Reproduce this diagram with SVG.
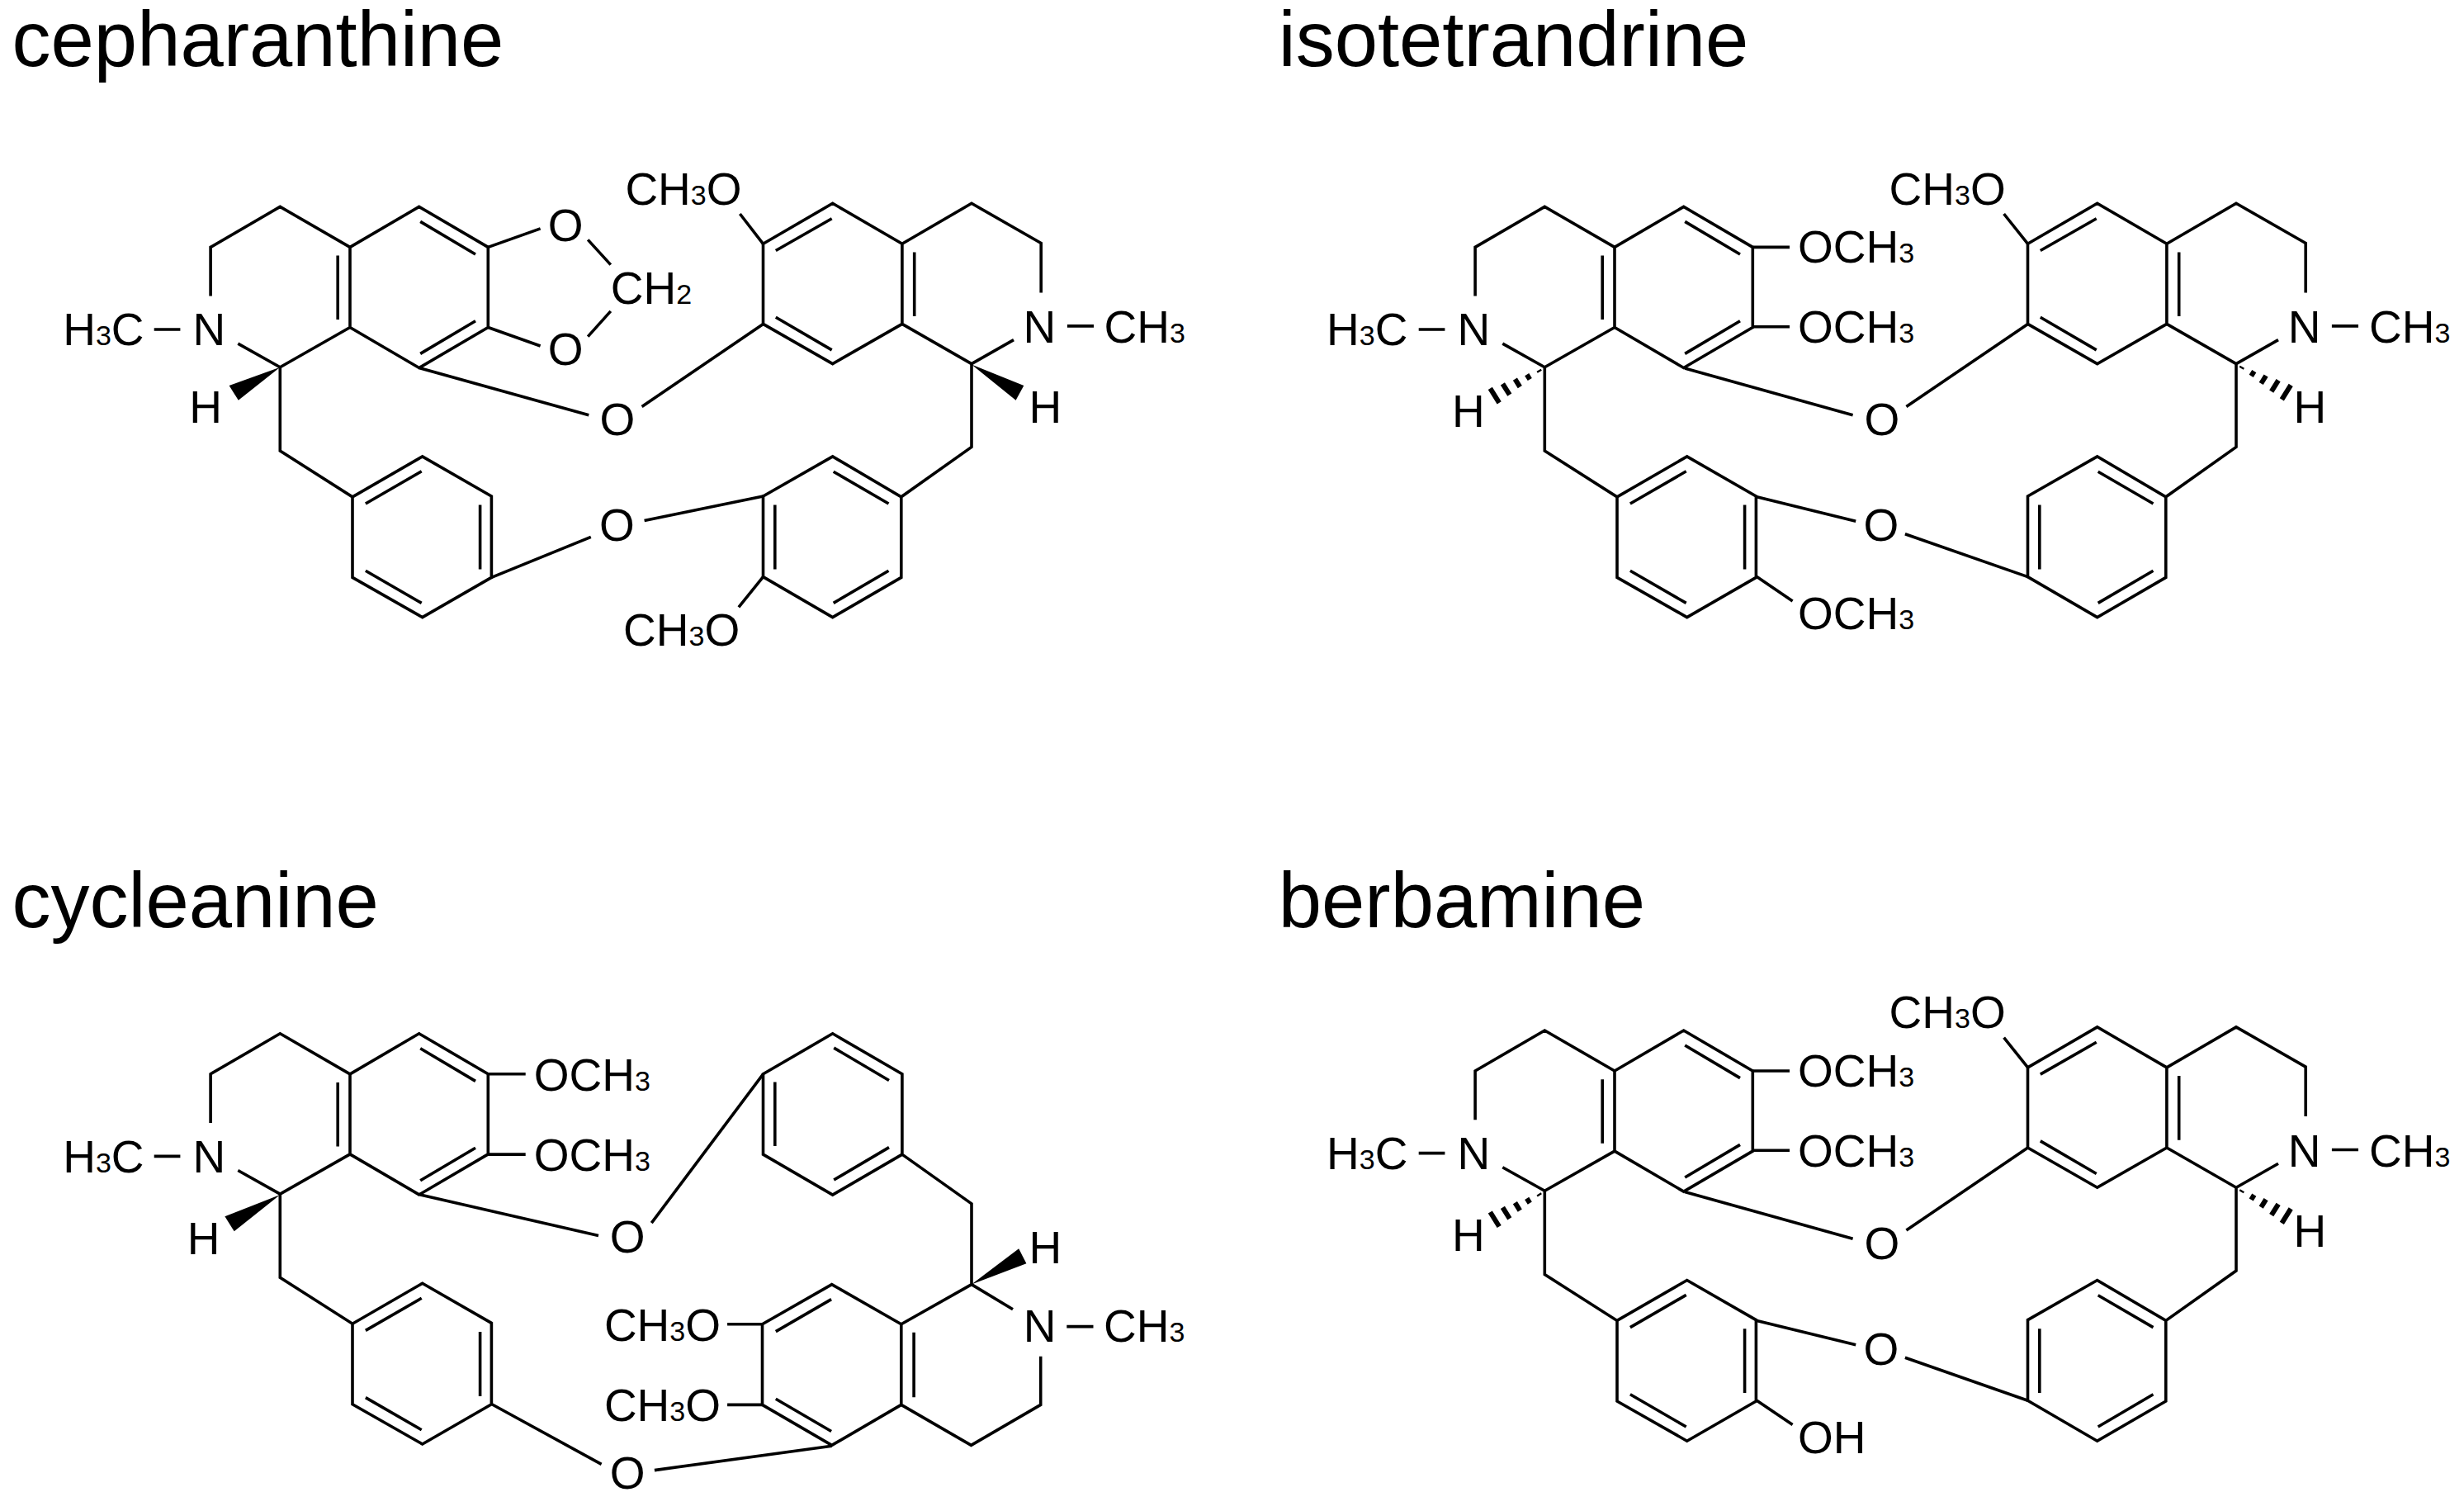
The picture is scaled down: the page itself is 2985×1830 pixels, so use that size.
<svg xmlns="http://www.w3.org/2000/svg" xmlns:xlink="http://www.w3.org/1999/xlink" width="2985" height="1830" viewBox="0 0 2985 1830">
<style>
text{font-family:"Liberation Sans",Arial,sans-serif;fill:#000}
.t{font-size:55px}
.s{font-size:34px}
.m{text-anchor:middle}
.title{font-size:94px}
.b{fill:none;stroke:#000;stroke-width:3.6;stroke-linejoin:miter}
.h{fill:none;stroke:#000;stroke-width:6}
.w{fill:#000;stroke:none}
</style>
<defs>
<g id="left-unit">
<path class="b" d="M255.1 358.6V299.4L339.3 250.4L424 299.4L507.7 250.4L591.3 299.4V396.5L507.7 445.5L424 396.5V299.4M424 396.5L339.3 444.7L288.3 416.1M339.3 444.7V545.9L427 601.8L511.7 552.9L595.4 601V699.4L511.7 747.6L427 699.4V601.8"/>
<path class="b" d="M409.2 309.6V387.1M509.2 268.4L576 308M509.2 428.4L576 388.8M442.9 610L510.7 570.8M581.6 611.6V689.5M442.9 691.2L510.7 730.4M186.7 399H218.4"/>
</g>
<g id="right-unit">
<path class="b" d="M924.5 295.3L1008.7 246.3L1092.9 295.3V392.4L1008.7 440.6L924.5 392.4ZM1092.9 295.3L1177 246.3L1261.2 294.5V354.5M1092.9 392.4L1177 440.6L1228 411.6M1177 440.6V541.4L1091.8 601.8L1008.7 552.9L924.5 601V698.6L1008.7 747.6L1091.8 699.4V601.8"/>
<path class="b" d="M939.8 303.5L1007.7 264.7M1107.7 305.5V383.1M939.8 384.3L1007.7 423.9M1009.7 571.2L1076.5 610M938.8 611.6V689.5M1009.7 730.4L1076.5 691.2M1292.9 394.9H1325"/>
</g>
<g id="hash">
<path class="h" d="M-66.3 24.9L-55.4 42.4M-51.2 19.3L-42.8 32.7M-36.2 13.6L-30.3 23.1M-21.9 8.2L-18.3 14M-7.5 2.8L-6.3 4.8"/>
</g>
</defs>
<rect width="2985" height="1830" fill="#fff"/>

<g id="cepharanthine">
<text class="title" x="14.6" y="80">cepharanthine</text>
<g id="cepharanthine-bonds">
<use href="#left-unit"/>
<use href="#right-unit"/>
<path class="b" d="M591.3 299.4L654.6 276.9M591.3 396.5L654.6 419M712.2 290.4L739.8 320.6M712.2 407.6L739.8 376.9M507.7 445.5L713.3 502.7M777.6 492.4L924.5 392.4M595.4 699.4L715.8 650.4M780.6 630.4L924.5 601M896.4 259L924.5 295.3M894.9 735.3L924.5 698.6"/>
<polygon class="w" points="339.3,444.7 277.6,467 288.8,484.7"/>
<polygon class="w" points="1177,441.4 1240.3,467 1230.6,484.7"/>
</g>
<g id="cepharanthine-labels">
<text class="t" x="76.2" y="418">H<tspan class="s">3</tspan>C</text>
<text class="t" x="233.6" y="418">N</text>
<text class="t" x="229.3" y="512">H</text>
<text class="t m" x="685.2" y="291.6">O</text>
<text class="t m" x="685.2" y="441.8">O</text>
<text class="t" x="739.8" y="367.6">CH<tspan class="s">2</tspan></text>
<text class="t m" x="748" y="527">O</text>
<text class="t m" x="747.4" y="654.9">O</text>
<text class="t" x="757.4" y="247.6">CH<tspan class="s">3</tspan>O</text>
<text class="t" x="755" y="782.2">CH<tspan class="s">3</tspan>O</text>
<text class="t" x="1239.6" y="414.9">N</text>
<text class="t" x="1337.5" y="414.9">CH<tspan class="s">3</tspan></text>
<text class="t" x="1246.6" y="512">H</text>
</g>
</g>

<g id="isotetrandrine">
<text class="title" x="1548.8" y="80">isotetrandrine</text>
<g id="isotetrandrine-bonds">
<use href="#left-unit" x="1532"/>
<use href="#right-unit" x="1532"/>
<path class="b" d="M2123.7 299.4H2168M2123.7 395.7H2168M2041 445.9L2244.6 502.7M2309.4 492.4L2456.6 392.4M2128.3 601.8L2248.2 631.2M2307.9 646.7L2456.6 698.6M2128.3 698.6L2171.6 728M2427.6 259L2456.6 295.3"/>
<use href="#hash" transform="translate(1871.6 445.5)"/>
<use href="#hash" transform="translate(2708.9 441.4) scale(-1 1)"/>
</g>
<g id="isotetrandrine-labels">
<text class="t" x="1607" y="418">H<tspan class="s">3</tspan>C</text>
<text class="t" x="1765.4" y="418">N</text>
<text class="t" x="1759" y="517">H</text>
<text class="t" x="2178" y="318">OCH<tspan class="s">3</tspan></text>
<text class="t" x="2178" y="415">OCH<tspan class="s">3</tspan></text>
<text class="t" x="2178" y="761.8">OCH<tspan class="s">3</tspan></text>
<text class="t m" x="2279.8" y="527">O</text>
<text class="t m" x="2278.8" y="654.9">O</text>
<text class="t" x="2288.5" y="247.6">CH<tspan class="s">3</tspan>O</text>
<text class="t" x="2771.7" y="414.9">N</text>
<text class="t" x="2870" y="414.9">CH<tspan class="s">3</tspan></text>
<text class="t" x="2778.6" y="512">H</text>
</g>
</g>

<g id="cycleanine">
<text class="title" x="14.6" y="1123.3">cycleanine</text>
<g id="cycleanine-bonds">
<use href="#left-unit" y="1001.4"/>
<path class="b" d="M924.5 1300.8L1008.7 1251.8L1092.9 1300.8V1398.1L1008.7 1447.1L924.5 1398.1ZM1092.9 1398.1L1177 1457.9V1555.6M1177 1555.6L1091.8 1603.8V1701.4L1007.7 1750.4L923.5 1701.4V1603.8L1007.7 1555.6L1091.8 1603.8M1177 1555.6L1227 1585.7M1260.7 1642.8V1701.4L1176.5 1750.4L1091.8 1701.4"/>
<path class="b" d="M938.8 1310.5V1388M1010.2 1269.1L1077 1308.5M1010.2 1429L1077 1389.6M939.8 1612.6L1007.1 1573.6M1107.1 1613.8V1692.2M939.8 1694.2L1007.1 1733.5M1292.3 1606.6H1324.5"/>
<path class="b" d="M591.3 1300.8H636.7M591.3 1398.1H636.7M509.2 1447.1L725 1496.5M789.3 1481.2L924.5 1300.8M596.4 1701L728.6 1773.3M792.9 1780.6L1007.7 1751.2M881.1 1603.8H923.5M881.1 1701.4H923.5"/>
<polygon class="w" points="339.3,1447 272.4,1473.2 283.7,1491.3"/>
<polygon class="w" points="1177,1555.6 1234.2,1512.2 1243.4,1530.3"/>
</g>
<g id="cycleanine-labels">
<text class="t" x="76.2" y="1419.6">H<tspan class="s">3</tspan>C</text>
<text class="t" x="233.6" y="1419.6">N</text>
<text class="t" x="226.7" y="1518.6">H</text>
<text class="t" x="646.7" y="1320.5">OCH<tspan class="s">3</tspan></text>
<text class="t" x="646.7" y="1418.2">OCH<tspan class="s">3</tspan></text>
<text class="t m" x="760.2" y="1516.6">O</text>
<text class="t m" x="760.2" y="1802.7">O</text>
<text class="t" x="731.9" y="1623.9">CH<tspan class="s">3</tspan>O</text>
<text class="t" x="731.9" y="1721.1">CH<tspan class="s">3</tspan>O</text>
<text class="t" x="1239.7" y="1625">N</text>
<text class="t" x="1337" y="1625">CH<tspan class="s">3</tspan></text>
<text class="t" x="1246.6" y="1529.5">H</text>
</g>
</g>

<g id="berbamine">
<text class="title" x="1548.8" y="1123.3">berbamine</text>
<g id="berbamine-bonds">
<use href="#left-unit" x="1532" y="997.6"/>
<use href="#right-unit" x="1532" y="997.6"/>
<path class="b" d="M2123.7 1297H2168M2123.7 1393.3H2168M2041 1443.5L2244.6 1500.3M2309.4 1490L2456.6 1390M2128.3 1599.4L2248.2 1628.8M2307.9 1644.3L2456.6 1696.2M2128.3 1696.2L2171.6 1725.6M2427.6 1256.6L2456.6 1292.9"/>
<use href="#hash" transform="translate(1871.6 1443.1)"/>
<use href="#hash" transform="translate(2708.9 1439) scale(-1 1)"/>
</g>
<g id="berbamine-labels">
<text class="t" x="1607" y="1415.6">H<tspan class="s">3</tspan>C</text>
<text class="t" x="1765.4" y="1415.6">N</text>
<text class="t" x="1759" y="1514.6">H</text>
<text class="t" x="2178" y="1315.6">OCH<tspan class="s">3</tspan></text>
<text class="t" x="2178" y="1412.6">OCH<tspan class="s">3</tspan></text>
<text class="t" x="2178" y="1760">OH</text>
<text class="t m" x="2279.8" y="1524.6">O</text>
<text class="t m" x="2278.8" y="1652.5">O</text>
<text class="t" x="2288.5" y="1245.2">CH<tspan class="s">3</tspan>O</text>
<text class="t" x="2771.7" y="1412.5">N</text>
<text class="t" x="2870" y="1412.5">CH<tspan class="s">3</tspan></text>
<text class="t" x="2778.6" y="1509.6">H</text>
</g>
</g>
</svg>
